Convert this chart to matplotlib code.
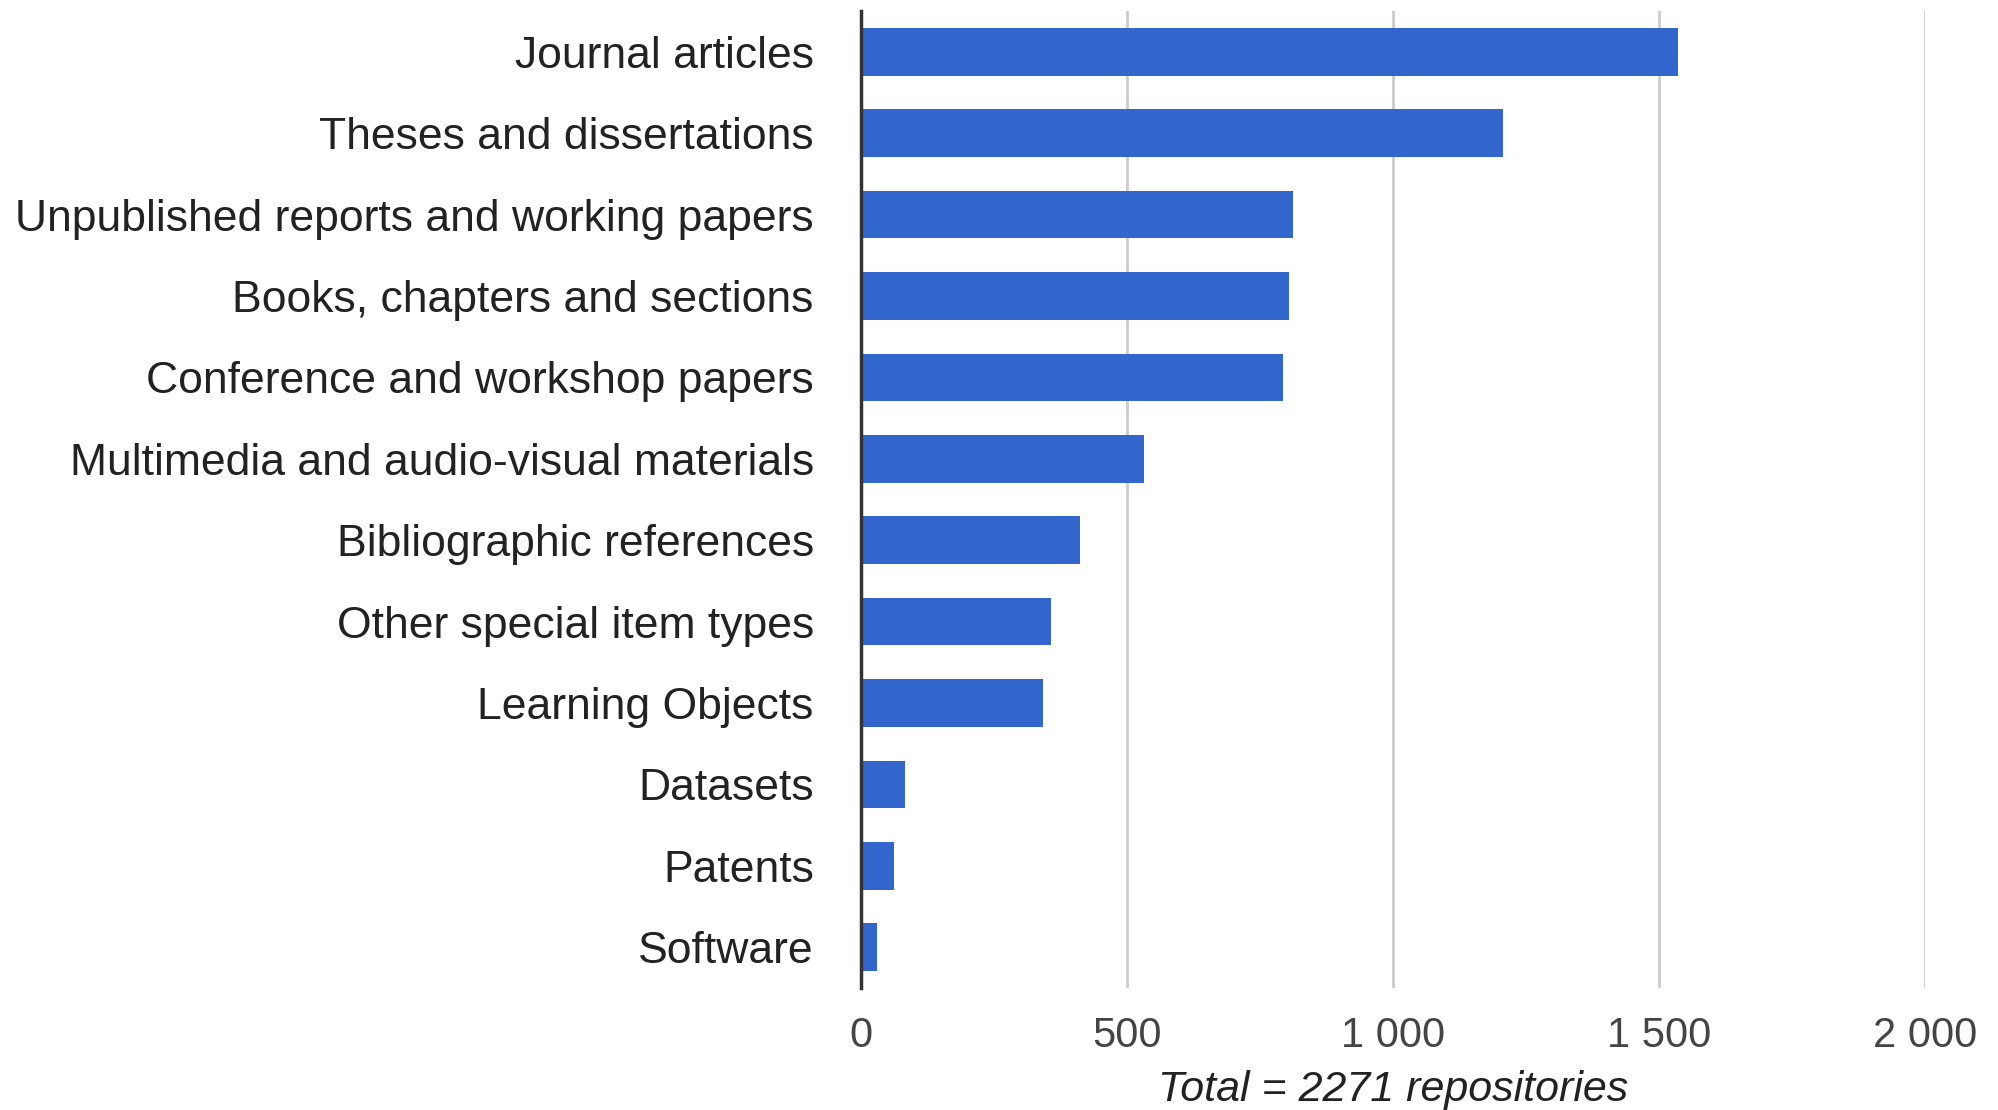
import matplotlib
matplotlib.use("Agg")
import matplotlib.pyplot as plt
from matplotlib.ticker import FixedLocator

categories = [
    "Journal articles",
    "Theses and dissertations",
    "Unpublished reports and working papers",
    "Books, chapters and sections",
    "Conference and workshop papers",
    "Multimedia and audio-visual materials",
    "Bibliographic references",
    "Other special item types",
    "Learning Objects",
    "Datasets",
    "Patents",
    "Software",
]
values = [1535, 1207, 812, 805, 793, 532, 412, 357, 343, 83, 62, 31]
x_ticks = [0, 500, 1000, 1500, 2000]
x_tick_labels = ["0", "500", "1 000", "1 500", "2 000"]
x_title = "Total = 2271 repositories"

plt.rcParams["font.family"] = ["Liberation Sans", "DejaVu Sans"]

fig = plt.figure(figsize=(19.99, 11.10), dpi=100)
ax = fig.add_axes([861 / 1999, 1 - 988 / 1110, (1925 - 861) / 1999, (988 - 11) / 1110])

ypos = list(range(len(categories)))
ax.barh(ypos, values, height=0.585, color="#3366cc", zorder=3)
ax.set_ylim(len(categories) - 0.5, -0.5)
ax.set_xlim(0, 2000)

ax.set_yticks(ypos)
ax.set_yticklabels(categories, fontsize=32, color="#222222")
ax.tick_params(axis="y", length=0, pad=34)

ax.xaxis.set_major_locator(FixedLocator(x_ticks))
ax.set_xticklabels(x_tick_labels, fontsize=30, color="#444444")
ax.tick_params(axis="x", length=0, pad=20)

ax.grid(axis="x", color="#cccccc", linewidth=2, zorder=0)
ax.grid(axis="y", visible=False)
for side in ["top", "right", "bottom"]:
    ax.spines[side].set_visible(False)
ax.spines["left"].set_color("#333333")
ax.spines["left"].set_linewidth(2.5)
ax.spines["left"].set_zorder(4)

ax.set_xlabel(x_title, fontsize=31, style="italic", color="#222222", labelpad=10)

fig.savefig("out.png", dpi=100, facecolor="white")
